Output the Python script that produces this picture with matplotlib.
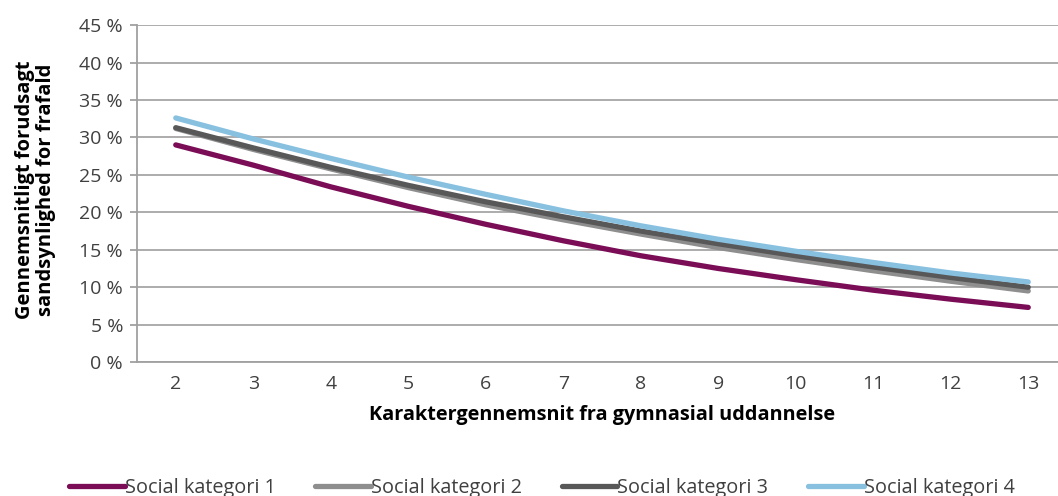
import matplotlib.pyplot as plt
import numpy as np

plt.rcParams['font.family'] = ['Open Sans', 'DejaVu Sans']

grades = [2, 3, 4, 5, 6, 7, 8, 9, 10, 11, 12, 13]
kat1 = [29.0, 26.3, 23.4, 20.8, 18.4, 16.2, 14.2, 12.5, 11.0, 9.6, 8.4, 7.3]
kat2 = [31.2, 28.4, 25.8, 23.3, 21.0, 19.0, 17.1, 15.3, 13.7, 12.2, 10.8, 9.5]
kat3 = [31.3, 28.6, 26.0, 23.6, 21.4, 19.4, 17.5, 15.8, 14.2, 12.7, 11.3, 10.0]
kat4 = [32.6, 29.8, 27.2, 24.7, 22.4, 20.2, 18.2, 16.4, 14.8, 13.3, 11.9, 10.7]
labels = ["Social kategori 1", "Social kategori 2", "Social kategori 3", "Social kategori 4"]
colors = ["#7A0D56", "#8E8E8E", "#585858", "#88C0E0"]

fig = plt.figure(figsize=(10.58, 4.96), dpi=100)
ax = fig.add_axes([0.1295, 0.270, 0.879, 0.6794])

for ys, lab, c in zip([kat1, kat2, kat3, kat4], labels, colors):
    ax.plot(grades, ys, color=c, lw=3.8, solid_capstyle='round', label=lab)

ax.set_xlim(1.5, 13.5)
ax.set_ylim(0, 45)
ax.set_yticks(np.arange(0, 46, 5))
ax.set_yticklabels([f"{v} %" for v in range(0, 46, 5)])
ax.set_xticks(grades)
ax.yaxis.grid(True, color="#A6A6A6", lw=1.3)
ax.set_axisbelow(True)
for s in ["top", "right"]:
    ax.spines[s].set_visible(False)
for s in ["left", "bottom"]:
    ax.spines[s].set_color("#A0A0A0")
    ax.spines[s].set_linewidth(1.3)
ax.tick_params(axis="y", length=5, color="#A0A0A0", width=1.3, labelsize=14,
               labelcolor="#404040", pad=5)
ax.tick_params(axis="x", length=0, labelsize=14, labelcolor="#404040", pad=9)

ax.set_xlabel("Karaktergennemsnit fra gymnasial uddannelse", fontsize=14.3,
              fontweight="bold", labelpad=9)
ax.set_ylabel("Gennemsnitligt forudsagt\nsandsynlighed for frafald", fontsize=14.5,
              fontweight="bold", linespacing=1.1)
ax.yaxis.set_label_coords(-0.087, 0.51)

fig.legend(loc="lower center", bbox_to_anchor=(0.512, -0.04), ncol=4, frameon=False,
           fontsize=14.3, handlelength=2.8, handletextpad=0.0, columnspacing=2.0,
           labelcolor="#404040")

fig.savefig("out.png", dpi=100)
